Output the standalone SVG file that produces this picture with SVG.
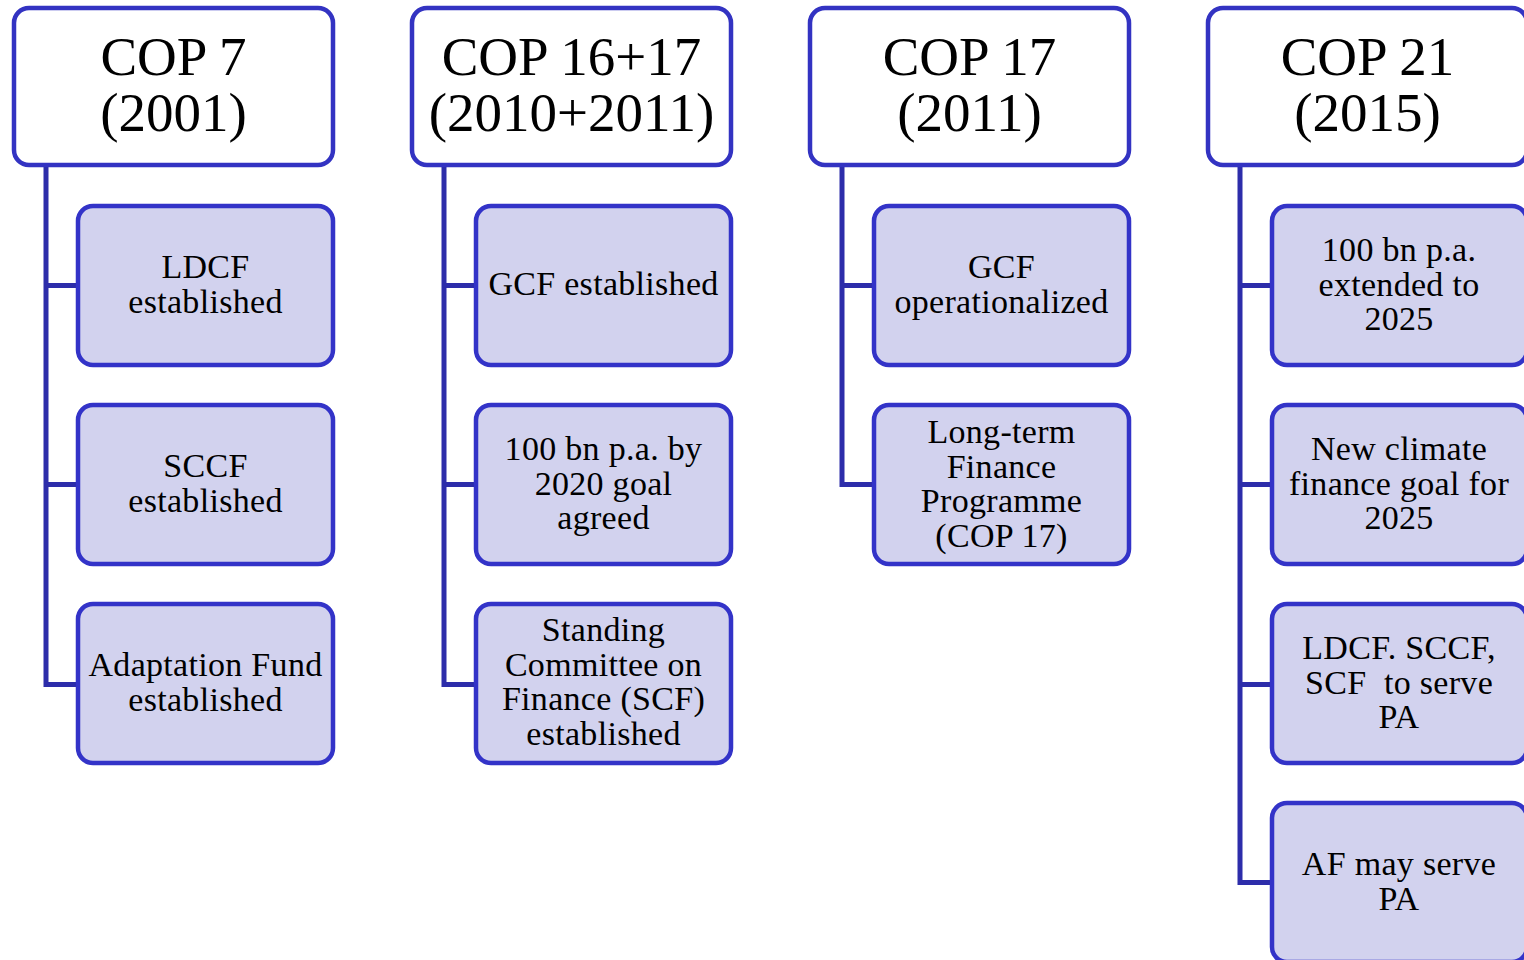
<svg xmlns="http://www.w3.org/2000/svg" width="1524" height="960" viewBox="0 0 1524 960">
<style>
.hdr{fill:#ffffff;stroke:#3333c2;stroke-width:4.5}
.child{fill:#d2d2ee;stroke:#3333c8;stroke-width:4.5}
.conn{fill:none;stroke:#2d2daa;stroke-width:5;stroke-linejoin:miter}
.ht{font-family:"Liberation Serif","Times New Roman",serif;font-size:55px;fill:#000;text-anchor:middle}
.ct{font-family:"Liberation Serif","Times New Roman",serif;font-size:34px;fill:#000;text-anchor:middle;letter-spacing:0.3px}
</style>
<rect width="1524" height="960" fill="#ffffff"/>
<g id="connectors">
<path class="conn" d="M46,166 V684.5 H78 M46,285.5 H78 M46,484.5 H78"/>
<path class="conn" d="M444,166 V684.5 H476 M444,285.5 H476 M444,484.5 H476"/>
<path class="conn" d="M842,166 V484.5 H874 M842,285.5 H874"/>
<path class="conn" d="M1240,166 V882.5 H1272 M1240,285.5 H1272 M1240,484.5 H1272 M1240,684.5 H1272"/>
</g>
<g id="h1"><rect class="hdr" x="14" y="8" width="319" height="157" rx="15"/><text class="ht" x="173.5"><tspan x="173.5" y="75">COP 7</tspan><tspan x="173.5" y="131">(2001)</tspan></text></g>
<g id="h2"><rect class="hdr" x="412" y="8" width="319" height="157" rx="15"/><text class="ht" x="571.5"><tspan x="571.5" y="75">COP 16+17</tspan><tspan x="571.5" y="131">(2010+2011)</tspan></text></g>
<g id="h3"><rect class="hdr" x="810" y="8" width="319" height="157" rx="15"/><text class="ht" x="969.5"><tspan x="969.5" y="75">COP 17</tspan><tspan x="969.5" y="131">(2011)</tspan></text></g>
<g id="h4"><rect class="hdr" x="1208" y="8" width="319" height="157" rx="15"/><text class="ht" x="1367.5"><tspan x="1367.5" y="75">COP 21</tspan><tspan x="1367.5" y="131">(2015)</tspan></text></g>

<g id="c1a"><rect class="child" x="78" y="206" width="255" height="159" rx="15"/><text class="ct"><tspan x="205.5" y="278">LDCF</tspan><tspan x="205.5" y="312.5">established</tspan></text></g>
<g id="c1b"><rect class="child" x="78" y="405" width="255" height="159" rx="15"/><text class="ct"><tspan x="205.5" y="477">SCCF</tspan><tspan x="205.5" y="511.5">established</tspan></text></g>
<g id="c1c"><rect class="child" x="78" y="604" width="255" height="159" rx="15"/><text class="ct"><tspan x="205.5" y="676">Adaptation Fund</tspan><tspan x="205.5" y="710.5">established</tspan></text></g>

<g id="c2a"><rect class="child" x="476" y="206" width="255" height="159" rx="15"/><text class="ct"><tspan x="603.5" y="295">GCF established</tspan></text></g>
<g id="c2b"><rect class="child" x="476" y="405" width="255" height="159" rx="15"/><text class="ct"><tspan x="603.5" y="460">100 bn p.a. by</tspan><tspan x="603.5" y="494.5">2020 goal</tspan><tspan x="603.5" y="529">agreed</tspan></text></g>
<g id="c2c"><rect class="child" x="476" y="604" width="255" height="159" rx="15"/><text class="ct"><tspan x="603.5" y="641">Standing</tspan><tspan x="603.5" y="675.5">Committee on</tspan><tspan x="603.5" y="710">Finance (SCF)</tspan><tspan x="603.5" y="744.5">established</tspan></text></g>

<g id="c3a"><rect class="child" x="874" y="206" width="255" height="159" rx="15"/><text class="ct"><tspan x="1001.5" y="278">GCF</tspan><tspan x="1001.5" y="312.5">operationalized</tspan></text></g>
<g id="c3b"><rect class="child" x="874" y="405" width="255" height="159" rx="15"/><text class="ct"><tspan x="1001.5" y="443">Long-term</tspan><tspan x="1001.5" y="477.5">Finance</tspan><tspan x="1001.5" y="512">Programme</tspan><tspan x="1001.5" y="546.5">(COP 17)</tspan></text></g>

<g id="c4a"><rect class="child" x="1272" y="206" width="255" height="159" rx="15"/><text class="ct"><tspan x="1399" y="261">100 bn p.a.</tspan><tspan x="1399" y="295.5">extended to</tspan><tspan x="1399" y="330">2025</tspan></text></g>
<g id="c4b"><rect class="child" x="1272" y="405" width="255" height="159" rx="15"/><text class="ct"><tspan x="1399" y="460">New climate</tspan><tspan x="1399" y="494.5">finance goal for</tspan><tspan x="1399" y="529">2025</tspan></text></g>
<g id="c4c"><rect class="child" x="1272" y="604" width="255" height="159" rx="15"/><text class="ct"><tspan x="1399" y="659">LDCF. SCCF,</tspan><tspan x="1399" y="693.5" xml:space="preserve">SCF  to serve</tspan><tspan x="1399" y="728">PA</tspan></text></g>
<g id="c4d"><rect class="child" x="1272" y="803" width="255" height="159" rx="15"/><text class="ct"><tspan x="1399" y="875">AF may serve</tspan><tspan x="1399" y="909.5">PA</tspan></text></g>
</svg>
